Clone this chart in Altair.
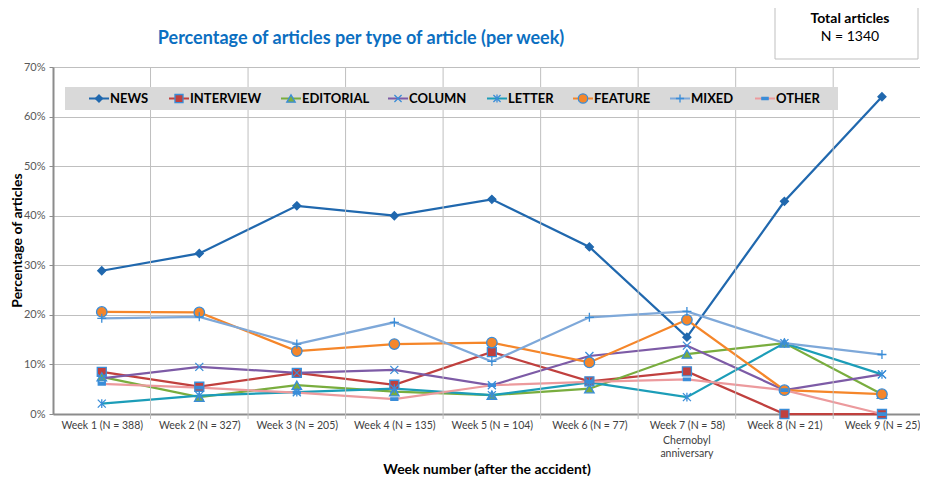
import json
import altair as alt
import pandas as pd

# ---- data ----
week_labels = ["Week 1 (N = 388)", "Week 2 (N = 327)", "Week 3 (N = 205)",
               "Week 4 (N = 135)", "Week 5 (N = 104)", "Week 6 (N = 77)",
               "Week 7 (N = 58)", "Week 8 (N = 21)", "Week 9 (N = 25)"]
week7_note = ["Chernobyl", "anniversary"]

series_names = ["NEWS", "INTERVIEW", "EDITORIAL", "COLUMN",
                "LETTER", "FEATURE", "MIXED", "OTHER"]

news      = [28.9, 32.4, 42.0, 40.0, 43.3, 33.7, 15.5, 42.9, 64.0]
interview = [8.5, 5.5, 8.3, 5.9, 12.5, 6.6, 8.6, 0.0, 0.0]
editorial = [7.5, 3.4, 5.8, 4.5, 3.8, 5.1, 12.1, 14.3, 4.0]
column    = [7.2, 9.5, 8.3, 8.9, 5.8, 11.7, 13.8, 4.8, 8.0]
letter    = [2.1, 3.7, 4.4, 5.1, 3.8, 6.4, 3.4, 14.3, 8.0]
feature   = [20.6, 20.5, 12.7, 14.1, 14.4, 10.4, 19.0, 4.8, 4.0]
mixed     = [19.3, 19.6, 14.1, 18.5, 10.6, 19.5, 20.7, 14.3, 12.0]
other     = [6.1, 5.3, 4.3, 3.0, 5.8, 6.5, 7.0, 4.8, 0.0]

title_text = "Percentage of articles per type of article (per week)"
total_title = "Total articles"
total_text = "N = 1340"

# ---- styling ----
colors = ["#2068AE", "#C0403E", "#79AD3E", "#7D5BA6",
          "#1C9DB8", "#F5862A", "#7EA8D9", "#EC9A9D"]
marker_blue = "#3A8DD8"
FONT = "Lato"

values_by_series = [news, interview, editorial, column, letter, feature, mixed, other]
rows = []
for name, vals in zip(series_names, values_by_series):
    for i, v in enumerate(vals):
        rows.append({"idx": i, "week": week_labels[i], "series": name, "value": v})
df = pd.DataFrame(rows)

label_expr = json.dumps(week_labels) + "[round(datum.value)]"

W, H = 867, 347
xscale = alt.Scale(domain=[-0.5, 8.39], nice=False, zero=False)
yscale = alt.Scale(domain=[0, 70], nice=False)

xaxis = alt.Axis(values=list(range(len(week_labels))), labelExpr=label_expr,
                 grid=False, ticks=False, domainColor="#8C8C8C", domainWidth=2,
                 labelFont=FONT, labelFontSize=10.5, labelColor="#404040",
                 labelPadding=6, labelFlush=False, labelOverlap=False,
                 title="Week number (after the accident)", titleFont=FONT,
                 titleFontSize=14, titleFontWeight="bold", titleColor="#000000",
                 titleY=59, titleBaseline="alphabetic")
yaxis = alt.Axis(values=list(range(0, 71, 10)), labelExpr="datum.value + '%'",
                 grid=True, gridColor="#BFBFBF", gridWidth=1,
                 domainColor="#8C8C8C", domainWidth=2, tickColor="#8C8C8C",
                 tickSize=4, labelPadding=4, labelFont=FONT, labelFontSize=11,
                 labelColor="#595959",
                 title="Percentage of articles", titleFont=FONT, titleFontSize=14,
                 titleFontWeight="bold", titleColor="#000000",
                 titleX=-36, titleY=173, titleAngle=270, titleAlign="center",
                 titleBaseline="middle")

X = alt.X("idx:Q", scale=xscale, axis=xaxis)
Y = alt.Y("value:Q", scale=yscale, axis=yaxis)

lines = alt.Chart(df).mark_line(strokeWidth=2.25).encode(
    x=X, y=Y,
    color=alt.Color("series:N", scale=alt.Scale(domain=series_names, range=colors),
                    legend=None))

# vertical gridlines at category boundaries
bounds = pd.DataFrame({"idx": [i + 0.5 for i in range(len(week_labels) - 1)]})
vgrid = alt.Chart(bounds).mark_rule(color="#BFBFBF", strokeWidth=1).encode(
    x=alt.X("idx:Q", scale=xscale, axis=xaxis),
    y=alt.value(0), y2=alt.value(H + 5))

one = pd.DataFrame({"a": [0]})
legend_bg = alt.Chart(one).mark_rect(fill="#D9D9D9").encode(
    x=alt.value(12), x2=alt.value(785), y=alt.value(20), y2=alt.value(43))

# extra lines under the week 7 label
note_df = pd.DataFrame({"idx": [6, 6], "line": week7_note, "k": [0, 1]})
note_layers = []
for k in range(len(week7_note)):
    note_layers.append(
        alt.Chart(note_df).transform_filter(alt.datum.k == k).mark_text(
            font=FONT, fontSize=10.5, color="#404040", baseline="top").encode(
            x=alt.X("idx:Q", scale=xscale, axis=xaxis),
            y=alt.value(H + 22 + 13 * k), text="line:N"))

marker_specs = {
    "NEWS": ("M0,-1L1,0L0,1L-1,0Z", colors[0], colors[0], 64, True),
    "INTERVIEW": ("square", colors[1], marker_blue, 81, True),
    "EDITORIAL": ("triangle-up", colors[2], marker_blue, 90, True),
    "COLUMN": ("M-1,-1L1,1M-1,1L1,-1", None, marker_blue, 64, False),
    "LETTER": ("M-1,-1L1,1M-1,1L1,-1M0,-1.1L0,1.1", None, marker_blue, 64, False),
    "FEATURE": ("circle", colors[5], marker_blue, 110, True),
    "MIXED": ("M-1,0L1,0M0,-1L0,1", None, marker_blue, 81, False),
    "OTHER": ("M-1,-0.35L1,-0.35L1,0.35L-1,0.35Z", marker_blue, marker_blue, 49, True),
}


def marker_kw(name, scale=1.0):
    shape, fill, stroke, size, filled = marker_specs[name]
    kw = dict(shape=shape, stroke=stroke, size=size * scale, strokeWidth=1.3,
              opacity=1, filled=filled)
    if fill is not None:
        kw["fill"] = fill
    return kw


point_layers = []
for name in series_names:
    point_layers.append(
        alt.Chart(df).transform_filter(alt.datum.series == name)
        .mark_point(**marker_kw(name)).encode(x=X, y=Y))

# legend (line sample + marker + label) inside the grey band
legend_left = [36, 116, 228, 335, 434, 520, 617, 702]
LEG_Y = 31.5
legend_layers = []
for name, color, x0 in zip(series_names, colors, legend_left):
    legend_layers.append(
        alt.Chart(one).mark_rule(color=color, strokeWidth=2).encode(
            x=alt.value(x0), x2=alt.value(x0 + 20), y=alt.value(LEG_Y)))
    legend_layers.append(
        alt.Chart(one).mark_point(**marker_kw(name, 0.8)).encode(
            x=alt.value(x0 + 10), y=alt.value(LEG_Y)))
    legend_layers.append(
        alt.Chart(one).mark_text(text=name, font=FONT, fontSize=13,
                                 fontWeight="bold", color="#000000",
                                 align="left", baseline="middle").encode(
            x=alt.value(x0 + 21), y=alt.value(LEG_Y + 0.5)))

title = alt.Chart(one).mark_text(text=title_text, font=FONT, fontSize=18,
                                 fontWeight="bold", color="#0B6FC1",
                                 align="center", baseline="alphabetic").encode(
    x=alt.value(308), y=alt.value(-23))

box = alt.Chart(one).mark_rect(fill="#FFFFFF", stroke="#BFBFBF", strokeWidth=1).encode(
    x=alt.value(722), x2=alt.value(865), y=alt.value(-65), y2=alt.value(-8))
box_t1 = alt.Chart(one).mark_text(text=total_title, font=FONT, fontSize=14,
                                  fontWeight="bold", color="#000000",
                                  align="center", baseline="alphabetic").encode(
    x=alt.value(797), y=alt.value(-44))
box_t2 = alt.Chart(one).mark_text(text=total_text, font=FONT, fontSize=14,
                                  color="#000000", align="center",
                                  baseline="alphabetic").encode(
    x=alt.value(797), y=alt.value(-26))

chart = alt.layer(lines, vgrid, legend_bg, *point_layers, *legend_layers,
                  *note_layers, title, box, box_t1, box_t2).properties(
    width=W, height=H,
    padding={"left": 45, "top": 59, "right": 0, "bottom": 62},
    autosize=alt.AutoSizeParams(type="none"),
).configure_view(stroke=None).configure(background="#FFFFFF")

chart.save("out.html", embed_options={"renderer": "svg", "actions": False})
